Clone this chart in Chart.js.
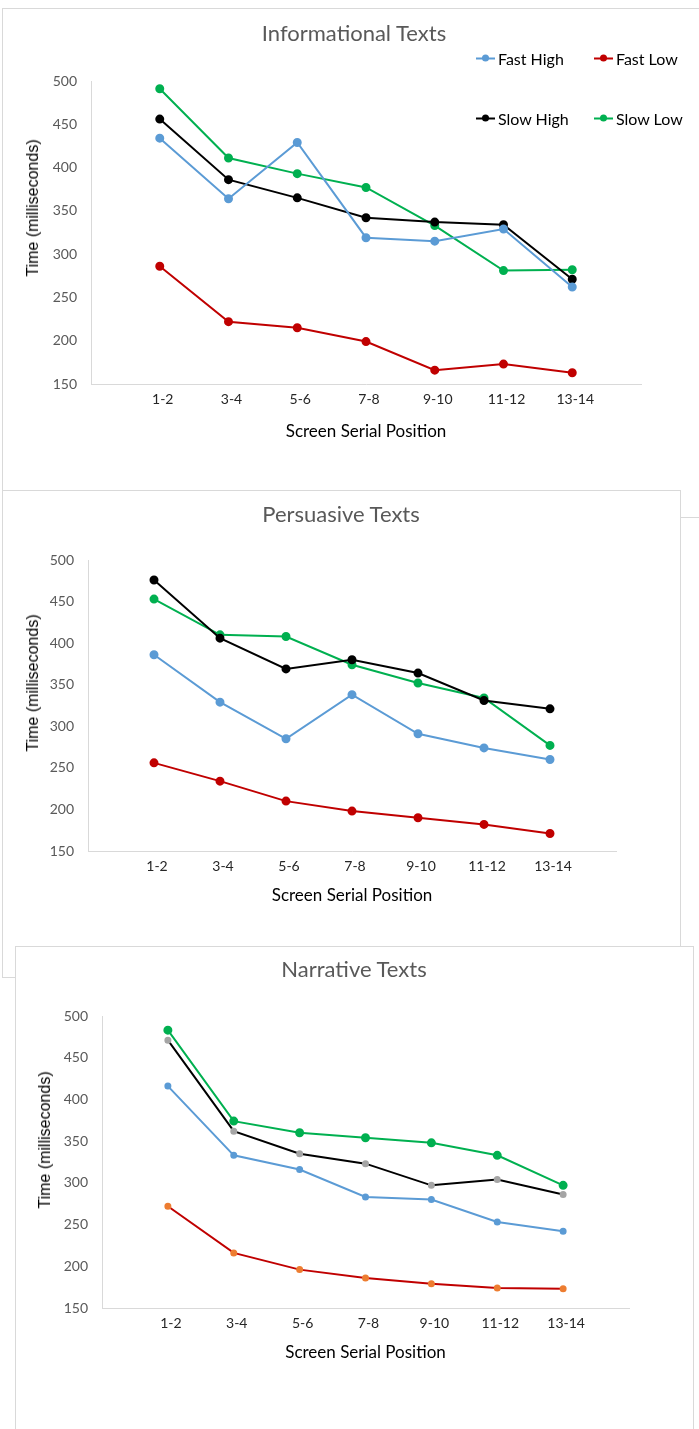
<!DOCTYPE html>
<html>
<head>
<meta charset="utf-8">
<title>Screen Serial Position</title>
<script src="https://cdn.jsdelivr.net/npm/chart.js@4/dist/chart.umd.min.js"></script>
<style>
  body { margin: 0; width: 699px; height: 1429px; position: relative; overflow: hidden; background: #fff; font-family: Lato, sans-serif; }
  .panel { position: absolute; border: 1px solid #d9d9d9; background: #fff; }
  canvas { position: absolute; left: 0; }
  .title { position: absolute; font: 22px Lato; color: #595959; transform: translate(-50%, -50%); white-space: nowrap; }
  .ytitle { position: absolute; font: 16px "Liberation Sans"; color: #000; transform: translate(-50%, -50%) rotate(-90deg); white-space: nowrap; }
  .key { position: absolute; font: 16px Lato; color: #000; transform: translateY(-50%); white-space: nowrap; display: flex; align-items: center; }
  .mark { position: relative; width: 19px; height: 2px; margin-right: 3px; }
  .mark::after { content: ''; position: absolute; left: 6px; top: -3px; width: 7px; height: 7px; border-radius: 50%; background: inherit; }
</style>
</head>
<body>
  <div class="panel" style="left:2px; top:8px; width:720px; height:508px;"></div>
  <canvas id="info" width="699" height="444" style="top:0px;"></canvas>
  <div class="title" style="left:354px; top:32px;">Informational Texts</div>
  <div class="ytitle" style="left:33px; top:208px;">Time (milliseconds)</div>
  <div id="legend"></div>

  <div class="panel" style="left:2px; top:490px; width:677px; height:486px;"></div>
  <canvas id="pers" width="699" height="421" style="top:490px;"></canvas>
  <div class="title" style="left:341px; top:513px;">Persuasive Texts</div>
  <div class="ytitle" style="left:33px; top:683px;">Time (milliseconds)</div>

  <div class="panel" style="left:15px; top:946px; width:677px; height:500px;"></div>
  <canvas id="narr" width="699" height="422" style="top:946px;"></canvas>
  <div class="title" style="left:354px; top:968px;">Narrative Texts</div>
  <div class="ytitle" style="left:45px; top:1140px;">Time (milliseconds)</div>

<script>
const positions = ['1-2', '3-4', '5-6', '7-8', '9-10', '11-12', '13-14'];
const seriesNames = ['Fast High', 'Fast Low', 'Slow High', 'Slow Low'];
const lineColors = ['#5b9bd5', '#c00000', '#000000', '#00b050'];

// Informational texts
const infoFastHigh = [434, 364, 429, 319, 315, 329, 262];
const infoFastLow = [286, 222, 215, 199, 166, 173, 163];
const infoSlowHigh = [456, 386, 365, 342, 337, 334, 271];
const infoSlowLow = [491, 411, 393, 377, 333, 281, 282];

// Persuasive texts
const persFastHigh = [386, 329, 285, 338, 291, 274, 260];
const persFastLow = [256, 234, 210, 198, 190, 182, 171];
const persSlowHigh = [476, 406, 369, 380, 364, 331, 321];
const persSlowLow = [453, 410, 408, 374, 352, 334, 277];

// Narrative texts
const narrFastHigh = [416, 333, 316, 283, 280, 253, 242];
const narrFastLow = [272, 216, 196, 186, 179, 174, 173];
const narrSlowHigh = [471, 362, 335, 323, 297, 304, 286];
const narrSlowLow = [483, 374, 360, 354, 348, 333, 297];

const yMin = 150;
const yMax = 500;
const yStep = 50;

function drawChart(id, series, area, markerColors, markerSizes) {
  const ctx = document.getElementById(id);
  return new Chart(ctx, {
    type: 'line',
    data: {
      datasets: series.map((vals, i) => ({
        label: seriesNames[i],
        data: vals.map((v, j) => ({ x: j, y: v })),
        borderColor: lineColors[i],
        backgroundColor: markerColors[i],
        pointBackgroundColor: markerColors[i],
        pointBorderColor: markerColors[i],
        pointRadius: markerSizes[i],
        borderWidth: 2,
        tension: 0,
      })),
    },
    options: {
      responsive: false,
      animation: false,
      layout: { padding: { left: 0, top: area.top, right: 699 - area.right, bottom: 0 } },
      plugins: { legend: { display: false }, tooltip: { enabled: false } },
      scales: {
        x: {
          type: 'linear',
          min: -1,
          max: 7,
          afterFit: (s) => { s.height = 60; },
          grid: { display: false, drawTicks: false },
          border: { color: '#d9d9d9', width: 1 },
          ticks: {
            stepSize: 1,
            autoSkip: false,
            maxRotation: 0,
            padding: 7,
            labelOffset: 3,
            color: '#262626',
            font: { family: 'Lato', size: 14 },
            callback: (v) => positions[v] ?? '',
          },
          title: {
            display: true,
            text: 'Screen Serial Position',
            color: '#000',
            font: { family: 'Lato', size: 17 },
            padding: { top: 0, bottom: area.titlePad },
          },
        },
        y: {
          min: yMin,
          max: yMax,
          afterFit: (s) => { s.width = area.left; },
          grid: { display: false, drawTicks: false },
          border: { color: '#d9d9d9', width: 1 },
          ticks: {
            stepSize: yStep,
            padding: 14,
            color: '#595959',
            font: { family: 'Lato', size: 14 },
          },
        },
      },
    },
  });
}

drawChart('info', [infoFastHigh, infoFastLow, infoSlowHigh, infoSlowLow],
  { left: 91, right: 641, top: 81, titlePad: 2 },
  lineColors, [3.5, 3.5, 3.5, 3.5]);

drawChart('pers', [persFastHigh, persFastLow, persSlowHigh, persSlowLow],
  { left: 88, right: 616, top: 70, titlePad: 5 },
  lineColors, [3.5, 3.5, 3.5, 3.5]);

drawChart('narr', [narrFastHigh, narrFastLow, narrSlowHigh, narrSlowLow],
  { left: 102, right: 629, top: 70, titlePad: 5 },
  ['#5b9bd5', '#ed7d31', '#a5a5a5', '#00b050'], [2.5, 2.5, 2.5, 3.5]);

// legend for the first chart, 2 x 2
const legend = document.getElementById('legend');
seriesNames.forEach((name, i) => {
  const key = document.createElement('div');
  key.className = 'key';
  key.style.left = (i % 2 ? 594 : 476) + 'px';
  key.style.top = (i < 2 ? 58 : 118) + 'px';
  const mark = document.createElement('span');
  mark.className = 'mark';
  mark.style.background = lineColors[i];
  key.appendChild(mark);
  key.appendChild(document.createTextNode(name));
  legend.appendChild(key);
});
</script>
</body>
</html>
